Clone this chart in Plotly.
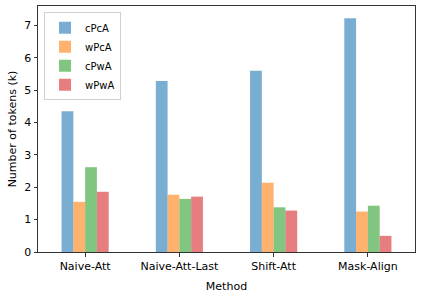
import plotly.graph_objects as go

methods = ["Naive-Att", "Naive-Att-Last", "Shift-Att", "Mask-Align"]
series_names = ["cPcA", "wPcA", "cPwA", "wPwA"]
cPcA = [4.35, 5.28, 5.60, 7.22]
wPcA = [1.55, 1.77, 2.14, 1.25]
cPwA = [2.62, 1.64, 1.38, 1.43]
wPwA = [1.86, 1.71, 1.28, 0.50]
colors = ["rgba(31,119,180,0.6)", "rgba(255,127,14,0.6)",
          "rgba(44,160,44,0.6)", "rgba(214,39,40,0.6)"]

values = [cPcA, wPcA, cPwA, wPwA]
width = 0.125
x_idx = list(range(len(methods)))

fig = go.Figure()
for i, (name, vals, col) in enumerate(zip(series_names, values, colors)):
    offset = (i - 1.5) * width
    fig.add_trace(go.Bar(
        x=[xi + offset for xi in x_idx], y=vals, name=name,
        width=width, marker=dict(color=col, line=dict(width=0)),
    ))

font = dict(family="DejaVu Sans", size=11, color="#000")
fig.update_layout(
    width=423, height=302,
    margin=dict(l=38, r=8, t=6, b=50, autoexpand=False),
    paper_bgcolor="white", plot_bgcolor="white",
    font=font,
    barmode="overlay",
    showlegend=True,
    legend=dict(x=0.016, y=0.975, xanchor="left", yanchor="top",
                bgcolor="rgba(255,255,255,0.8)", bordercolor="#d0d0d0", borderwidth=1,
                font=dict(family="DejaVu Sans", size=10), itemwidth=30,
                tracegroupgap=0),
    xaxis=dict(
        range=[-0.5, 3.5], tickmode="array", tickvals=x_idx, ticktext=methods,
        showgrid=False, zeroline=False, showline=True, linecolor="#333", linewidth=1,
        mirror=True, ticks="outside", ticklen=3.5, tickcolor="#333", automargin=False,
        title=dict(text="Method", font=font, standoff=10),
    ),
    yaxis=dict(
        range=[0, 7.6], tickmode="array", tickvals=list(range(8)),
        showgrid=False, zeroline=False, showline=True, linecolor="#333", linewidth=1,
        mirror=True, ticks="outside", ticklen=3.5, tickcolor="#333", automargin=False,
        title=dict(text="Number of tokens (k)", font=font, standoff=5),
    ),
)

fig.write_html(
    "out.html",
    config={"displayModeBar": False},
    post_script="document.body.style.margin='0';document.body.style.overflow='hidden';",
)
